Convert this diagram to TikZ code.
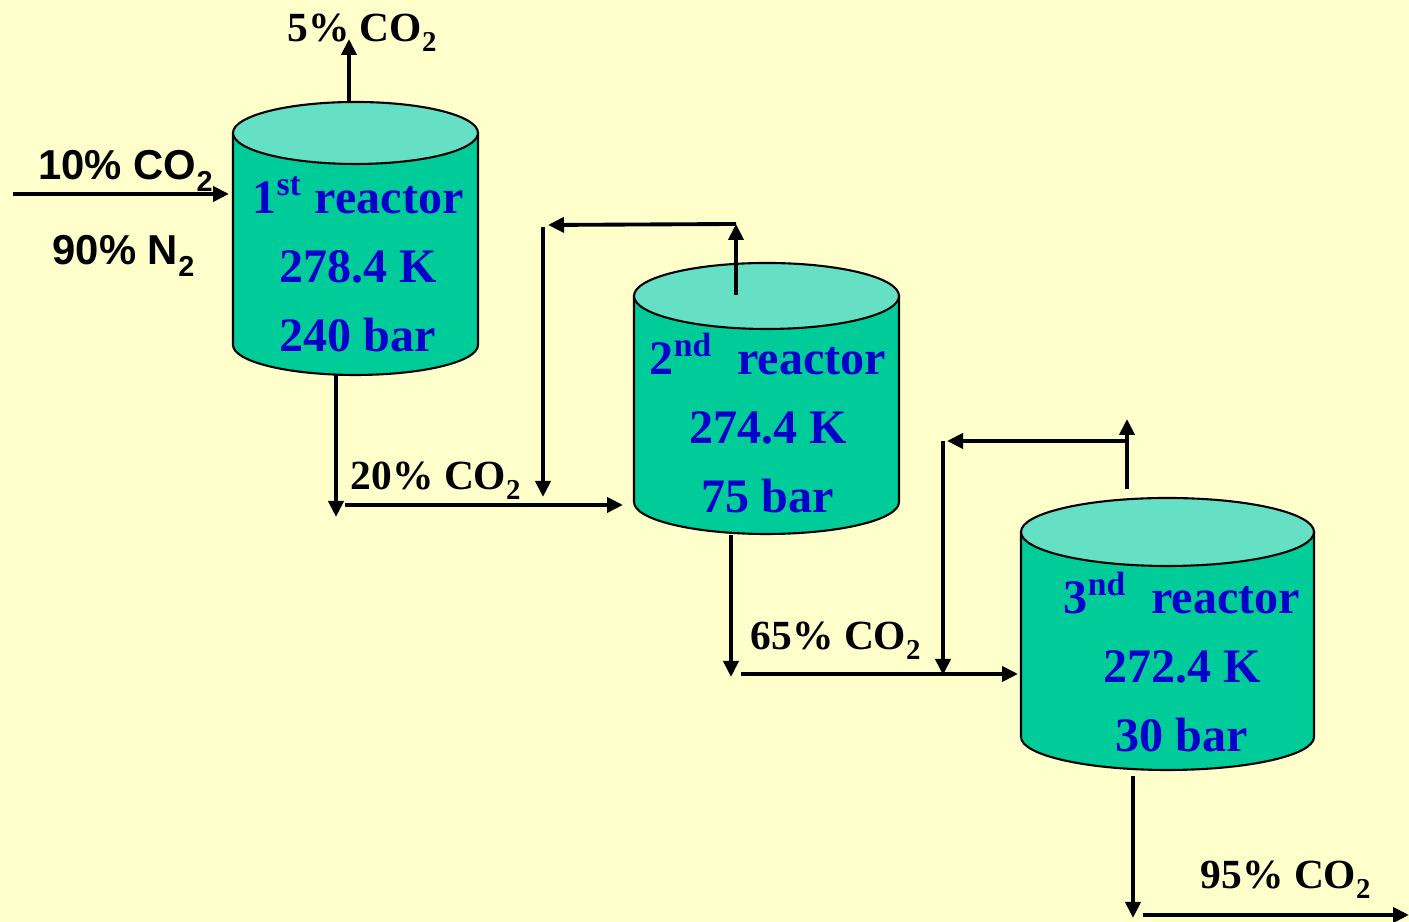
\documentclass[tikz,border=0pt]{standalone}
\usepackage{fontspec}
\setmainfont{Liberation Serif}
\newfontfamily\arialfont{Liberation Sans}
\usetikzlibrary{arrows.meta}
\definecolor{paper}{HTML}{FFFFCC}
\definecolor{bodygreen}{HTML}{00CC99}
\definecolor{lidgreen}{HTML}{66E0C4}
\definecolor{reactorblue}{HTML}{0000CC}
\newcommand\lowtwo{\raisebox{-0.5ex}{\fontsize{8.2}{9}\selectfont 2}}
\begin{document}
\begin{tikzpicture}[>={Triangle[length=1.6mm,width=1.5mm]},
        vessel/.style={draw=black, line width=0.6pt, fill=bodygreen},
        lid/.style={draw=black, line width=0.6pt, fill=lidgreen},
        reactor/.style={align=center, text=reactorblue, inner sep=0pt, font=\fontsize{13.7}{19.6}\selectfont\bfseries},
        stream/.style={inner sep=0pt, font=\fontsize{11.8}{13}\selectfont\bfseries},
        feed/.style={inner sep=0pt, font=\arialfont\fontsize{11.9}{13}\selectfont\bfseries},
        pipe/.style={line width=1.1pt}]
    \fill[paper] (0,0) rectangle (14.09,9.22);
    \useasboundingbox (0,0) rectangle (14.09,9.22);
    % reactors
    \filldraw[vessel] (2.33,7.89) -- (2.33,5.77) arc[start angle=180, end angle=360, x radius=1.225, y radius=0.30] -- (4.78,7.89) -- cycle;
    \filldraw[lid] (3.555,7.89) ellipse[x radius=1.225, y radius=0.31];
    \filldraw[vessel] (6.34,6.26) -- (6.34,4.20) arc[start angle=180, end angle=360, x radius=1.325, y radius=0.32] -- (8.99,6.26) -- cycle;
    \filldraw[lid] (7.665,6.26) ellipse[x radius=1.325, y radius=0.33];
    \filldraw[vessel] (10.21,3.90) -- (10.21,1.85) arc[start angle=180, end angle=360, x radius=1.465, y radius=0.33] -- (13.14,3.90) -- cycle;
    \filldraw[lid] (11.675,3.90) ellipse[x radius=1.465, y radius=0.34];
    \node[reactor] (r1) at (3.58,6.58) {1\textsuperscript{st} reactor\\278.4 K\\240 bar};
    \node[reactor] (r2) at (7.68,4.99) {2\textsuperscript{nd}\ \ reactor\\274.4 K\\75 bar};
    \node[reactor] (r3) at (11.82,2.60) {3\textsuperscript{nd}\ \ reactor\\272.4 K\\30 bar};
    % stream labels
    \node[stream, anchor=base] (vent) at (3.62,8.80) {5\% CO\lowtwo};
    \node[feed, anchor=base] (feedco) at (1.255,7.42) {10\% CO\lowtwo};
    \node[feed, anchor=base] (feedn) at (1.235,6.57) {90\% N\lowtwo};
    \node[stream, anchor=base west] (out1) at (3.50,4.32) {20\% CO\lowtwo};
    \node[stream, anchor=base west] (out2) at (7.50,2.72) {65\% CO\lowtwo};
    \node[stream, anchor=base west] (product) at (12.00,0.33) {95\% CO\lowtwo};
    % pipe ends
    \coordinate (feedin) at (0.13,7.28);
    \coordinate (r1in) at (2.29,7.28);
    \coordinate (r1top) at (3.49,8.20);
    \coordinate (ventup) at (3.49,8.83);
    \coordinate (r1bot) at (3.36,5.47);
    \coordinate (r1down) at (3.36,4.05);
    \coordinate (r2feed) at (3.45,4.17);
    \coordinate (r2in) at (6.23,4.17);
    \coordinate (r2top) at (7.36,6.27);
    \coordinate (r2up) at (7.36,6.98);
    \coordinate (r2back) at (5.48,6.97);
    \coordinate (r2corner) at (5.43,6.95);
    \coordinate (r2return) at (5.43,4.25);
    \coordinate (r2bot) at (7.31,3.87);
    \coordinate (r2down) at (7.31,2.45);
    \coordinate (r3feed) at (7.41,2.48);
    \coordinate (r3in) at (10.18,2.48);
    \coordinate (r3top) at (11.27,4.33);
    \coordinate (r3up) at (11.27,5.03);
    \coordinate (r3split) at (11.27,4.81);
    \coordinate (r3back) at (9.47,4.81);
    \coordinate (r3corner) at (9.43,4.81);
    \coordinate (r3return) at (9.43,2.47);
    \coordinate (r3bot) at (11.33,1.46);
    \coordinate (r3down) at (11.33,0.04);
    \coordinate (prodfeed) at (11.43,0.07);
    \coordinate (prodout) at (14.09,0.07);
    % pipes
    \draw[pipe, ->] (feedin) -- (r1in);
    \draw[pipe, ->] (r1top) -- (ventup);
    \draw[pipe, ->] (r1bot) -- (r1down);
    \draw[pipe, ->] (r2feed) -- (r2in);
    \draw[pipe, ->] (r2top) -- (r2up);
    \draw[pipe, ->] (r2up) -- (r2back);
    \draw[pipe, ->] (r2corner) -- (r2return);
    \draw[pipe, ->] (r2bot) -- (r2down);
    \draw[pipe, ->] (r3feed) -- (r3in);
    \draw[pipe, ->] (r3top) -- (r3up);
    \draw[pipe, ->] (r3split) -- (r3back);
    \draw[pipe, ->] (r3corner) -- (r3return);
    \draw[pipe, ->] (r3bot) -- (r3down);
    \draw[pipe, ->] (prodfeed) -- (prodout);
\end{tikzpicture}
\end{document}
